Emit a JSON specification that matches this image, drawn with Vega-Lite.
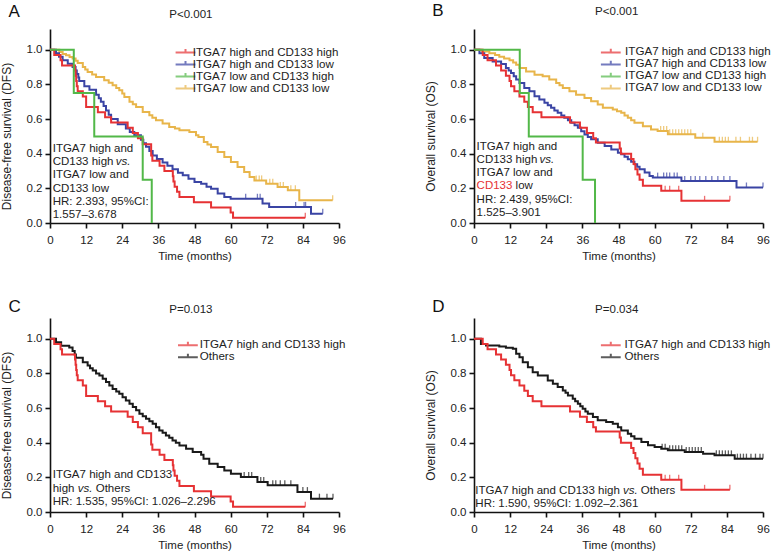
{
  "$schema": "https://vega.github.io/schema/vega-lite/v6.json",
  "padding": {"left": 0, "top": 2, "right": 0, "bottom": 0},
  "background": "white",
  "columns": 2,
  "spacing": {"row": 95, "column": 135},
  "bounds": "flush",
  "resolve": {"scale": {"color": "independent"}, "legend": {"color": "independent"}},
  "datasets": {
    "dfs": [
      {"group":"ITGA7 low and CD133 low","t":0,"s":1},{"group":"ITGA7 low and CD133 low","t":3.1,"s":0.987},{"group":"ITGA7 low and CD133 low","t":4.2,"s":0.975},{"group":"ITGA7 low and CD133 low","t":5.3,"s":0.968},{"group":"ITGA7 low and CD133 low","t":6.5,"s":0.958},{"group":"ITGA7 low and CD133 low","t":7.5,"s":0.95},{"group":"ITGA7 low and CD133 low","t":8.5,"s":0.937},{"group":"ITGA7 low and CD133 low","t":9.2,"s":0.924},{"group":"ITGA7 low and CD133 low","t":10.9,"s":0.9},{"group":"ITGA7 low and CD133 low","t":11.7,"s":0.886},{"group":"ITGA7 low and CD133 low","t":12.5,"s":0.872},{"group":"ITGA7 low and CD133 low","t":14,"s":0.857},{"group":"ITGA7 low and CD133 low","t":15.3,"s":0.843},{"group":"ITGA7 low and CD133 low","t":18,"s":0.824},{"group":"ITGA7 low and CD133 low","t":19.5,"s":0.81},{"group":"ITGA7 low and CD133 low","t":20.8,"s":0.795},{"group":"ITGA7 low and CD133 low","t":22,"s":0.78},{"group":"ITGA7 low and CD133 low","t":23,"s":0.766},{"group":"ITGA7 low and CD133 low","t":24,"s":0.747},{"group":"ITGA7 low and CD133 low","t":24.7,"s":0.728},{"group":"ITGA7 low and CD133 low","t":26.4,"s":0.7},{"group":"ITGA7 low and CD133 low","t":27.5,"s":0.685},{"group":"ITGA7 low and CD133 low","t":28.6,"s":0.67},{"group":"ITGA7 low and CD133 low","t":30.8,"s":0.641},{"group":"ITGA7 low and CD133 low","t":33,"s":0.622},{"group":"ITGA7 low and CD133 low","t":34,"s":0.607},{"group":"ITGA7 low and CD133 low","t":35.2,"s":0.593},{"group":"ITGA7 low and CD133 low","t":37.4,"s":0.574},{"group":"ITGA7 low and CD133 low","t":39.6,"s":0.554},{"group":"ITGA7 low and CD133 low","t":41.5,"s":0.545},{"group":"ITGA7 low and CD133 low","t":43,"s":0.535},{"group":"ITGA7 low and CD133 low","t":46.3,"s":0.525},{"group":"ITGA7 low and CD133 low","t":48.5,"s":0.506},{"group":"ITGA7 low and CD133 low","t":49.3,"s":0.497},{"group":"ITGA7 low and CD133 low","t":51.1,"s":0.468},{"group":"ITGA7 low and CD133 low","t":52.3,"s":0.453},{"group":"ITGA7 low and CD133 low","t":53.5,"s":0.439},{"group":"ITGA7 low and CD133 low","t":55.7,"s":0.41},{"group":"ITGA7 low and CD133 low","t":57.9,"s":0.381},{"group":"ITGA7 low and CD133 low","t":60.1,"s":0.352},{"group":"ITGA7 low and CD133 low","t":62.3,"s":0.323},{"group":"ITGA7 low and CD133 low","t":64.5,"s":0.294},{"group":"ITGA7 low and CD133 low","t":66.3,"s":0.265},{"group":"ITGA7 low and CD133 low","t":67.9,"s":0.246},{"group":"ITGA7 low and CD133 low","t":71.8,"s":0.227},{"group":"ITGA7 low and CD133 low","t":75.6,"s":0.208},{"group":"ITGA7 low and CD133 low","t":79,"s":0.189},{"group":"ITGA7 low and CD133 low","t":82.8,"s":0.131},{"group":"ITGA7 low and CD133 low","t":93.9,"s":0.131},
      {"group":"ITGA7 high and CD133 low","t":0,"s":1},{"group":"ITGA7 high and CD133 low","t":2,"s":0.98},{"group":"ITGA7 high and CD133 low","t":3,"s":0.96},{"group":"ITGA7 high and CD133 low","t":4.2,"s":0.94},{"group":"ITGA7 high and CD133 low","t":5.9,"s":0.92},{"group":"ITGA7 high and CD133 low","t":7.5,"s":0.9},{"group":"ITGA7 high and CD133 low","t":8.5,"s":0.88},{"group":"ITGA7 high and CD133 low","t":8.9,"s":0.86},{"group":"ITGA7 high and CD133 low","t":9.4,"s":0.84},{"group":"ITGA7 high and CD133 low","t":9.7,"s":0.82},{"group":"ITGA7 high and CD133 low","t":11.4,"s":0.79},{"group":"ITGA7 high and CD133 low","t":13.1,"s":0.77},{"group":"ITGA7 high and CD133 low","t":15.3,"s":0.74},{"group":"ITGA7 high and CD133 low","t":16.2,"s":0.72},{"group":"ITGA7 high and CD133 low","t":16.9,"s":0.7},{"group":"ITGA7 high and CD133 low","t":17.8,"s":0.675},{"group":"ITGA7 high and CD133 low","t":18.6,"s":0.65},{"group":"ITGA7 high and CD133 low","t":19.5,"s":0.625},{"group":"ITGA7 high and CD133 low","t":20.3,"s":0.6},{"group":"ITGA7 high and CD133 low","t":22.5,"s":0.57},{"group":"ITGA7 high and CD133 low","t":25.2,"s":0.545},{"group":"ITGA7 high and CD133 low","t":26.5,"s":0.525},{"group":"ITGA7 high and CD133 low","t":28,"s":0.506},{"group":"ITGA7 high and CD133 low","t":30.2,"s":0.48},{"group":"ITGA7 high and CD133 low","t":31,"s":0.46},{"group":"ITGA7 high and CD133 low","t":31.9,"s":0.44},{"group":"ITGA7 high and CD133 low","t":33,"s":0.415},{"group":"ITGA7 high and CD133 low","t":34.1,"s":0.39},{"group":"ITGA7 high and CD133 low","t":35.5,"s":0.37},{"group":"ITGA7 high and CD133 low","t":37.4,"s":0.35},{"group":"ITGA7 high and CD133 low","t":39,"s":0.33},{"group":"ITGA7 high and CD133 low","t":40.7,"s":0.31},{"group":"ITGA7 high and CD133 low","t":42.5,"s":0.29},{"group":"ITGA7 high and CD133 low","t":44.1,"s":0.275},{"group":"ITGA7 high and CD133 low","t":46,"s":0.255},{"group":"ITGA7 high and CD133 low","t":48,"s":0.237},{"group":"ITGA7 high and CD133 low","t":50.2,"s":0.227},{"group":"ITGA7 high and CD133 low","t":52,"s":0.21},{"group":"ITGA7 high and CD133 low","t":53.5,"s":0.198},{"group":"ITGA7 high and CD133 low","t":55.7,"s":0.17},{"group":"ITGA7 high and CD133 low","t":57.9,"s":0.15},{"group":"ITGA7 high and CD133 low","t":60,"s":0.14},{"group":"ITGA7 high and CD133 low","t":70.6,"s":0.112},{"group":"ITGA7 high and CD133 low","t":72.8,"s":0.093},{"group":"ITGA7 high and CD133 low","t":86.7,"s":0.054},{"group":"ITGA7 high and CD133 low","t":90.6,"s":0.054},
      {"group":"ITGA7 high and CD133 high","t":0,"s":1},{"group":"ITGA7 high and CD133 high","t":1.4,"s":0.97},{"group":"ITGA7 high and CD133 high","t":3.5,"s":0.94},{"group":"ITGA7 high and CD133 high","t":4,"s":0.91},{"group":"ITGA7 high and CD133 high","t":8.3,"s":0.88},{"group":"ITGA7 high and CD133 high","t":8.5,"s":0.85},{"group":"ITGA7 high and CD133 high","t":8.7,"s":0.82},{"group":"ITGA7 high and CD133 high","t":8.9,"s":0.79},{"group":"ITGA7 high and CD133 high","t":9.2,"s":0.76},{"group":"ITGA7 high and CD133 high","t":10.9,"s":0.73},{"group":"ITGA7 high and CD133 high","t":12,"s":0.67},{"group":"ITGA7 high and CD133 high","t":15.9,"s":0.64},{"group":"ITGA7 high and CD133 high","t":18.3,"s":0.61},{"group":"ITGA7 high and CD133 high","t":20.3,"s":0.58},{"group":"ITGA7 high and CD133 high","t":25.8,"s":0.55},{"group":"ITGA7 high and CD133 high","t":27.5,"s":0.52},{"group":"ITGA7 high and CD133 high","t":29.2,"s":0.49},{"group":"ITGA7 high and CD133 high","t":30.8,"s":0.455},{"group":"ITGA7 high and CD133 high","t":33.6,"s":0.39},{"group":"ITGA7 high and CD133 high","t":34,"s":0.36},{"group":"ITGA7 high and CD133 high","t":36.4,"s":0.33},{"group":"ITGA7 high and CD133 high","t":38,"s":0.3},{"group":"ITGA7 high and CD133 high","t":40.8,"s":0.27},{"group":"ITGA7 high and CD133 high","t":41,"s":0.24},{"group":"ITGA7 high and CD133 high","t":41.4,"s":0.21},{"group":"ITGA7 high and CD133 high","t":42.2,"s":0.18},{"group":"ITGA7 high and CD133 high","t":43,"s":0.15},{"group":"ITGA7 high and CD133 high","t":47.8,"s":0.12},{"group":"ITGA7 high and CD133 high","t":53.5,"s":0.09},{"group":"ITGA7 high and CD133 high","t":60,"s":0.06},{"group":"ITGA7 high and CD133 high","t":60.8,"s":0.03},{"group":"ITGA7 high and CD133 high","t":84.8,"s":0.03},
      {"group":"ITGA7 low and CD133 high","t":0,"s":1},{"group":"ITGA7 low and CD133 high","t":7.9,"s":0.75},{"group":"ITGA7 low and CD133 high","t":14.7,"s":0.5},{"group":"ITGA7 low and CD133 high","t":30.8,"s":0.25},{"group":"ITGA7 low and CD133 high","t":33.8,"s":0}
    ],
    "dfs_cens": [
      {"group":"ITGA7 high and CD133 high","t":84.8,"s":0.03},
      {"group":"ITGA7 high and CD133 low","t":65,"s":0.14},{"group":"ITGA7 high and CD133 low","t":68.9,"s":0.14},{"group":"ITGA7 high and CD133 low","t":69.8,"s":0.14},{"group":"ITGA7 high and CD133 low","t":81.6,"s":0.093},{"group":"ITGA7 high and CD133 low","t":84.4,"s":0.093},{"group":"ITGA7 high and CD133 low","t":84.9,"s":0.093},{"group":"ITGA7 high and CD133 low","t":90.6,"s":0.054},
      {"group":"ITGA7 low and CD133 low","t":68.5,"s":0.246},{"group":"ITGA7 low and CD133 low","t":69.5,"s":0.246},{"group":"ITGA7 low and CD133 low","t":70.3,"s":0.246},{"group":"ITGA7 low and CD133 low","t":73,"s":0.227},{"group":"ITGA7 low and CD133 low","t":74,"s":0.227},{"group":"ITGA7 low and CD133 low","t":76.5,"s":0.208},{"group":"ITGA7 low and CD133 low","t":77.5,"s":0.208},{"group":"ITGA7 low and CD133 low","t":80,"s":0.189},{"group":"ITGA7 low and CD133 low","t":81.5,"s":0.189},{"group":"ITGA7 low and CD133 low","t":93.9,"s":0.131}
    ],
    "dfs_others": [
      {"group":"Others","t":0,"s":1},{"group":"Others","t":2,"s":0.98},{"group":"Others","t":3.7,"s":0.96},{"group":"Others","t":6.4,"s":0.95},{"group":"Others","t":7.5,"s":0.93},{"group":"Others","t":8.2,"s":0.91},{"group":"Others","t":8.6,"s":0.89},{"group":"Others","t":10.9,"s":0.865},{"group":"Others","t":12.5,"s":0.846},{"group":"Others","t":13.3,"s":0.83},{"group":"Others","t":14.2,"s":0.817},{"group":"Others","t":15.3,"s":0.8},{"group":"Others","t":16.4,"s":0.788},{"group":"Others","t":17.5,"s":0.77},{"group":"Others","t":18.6,"s":0.75},{"group":"Others","t":19.7,"s":0.73},{"group":"Others","t":20.8,"s":0.71},{"group":"Others","t":22,"s":0.695},{"group":"Others","t":23,"s":0.682},{"group":"Others","t":24.1,"s":0.663},{"group":"Others","t":25.2,"s":0.644},{"group":"Others","t":26.4,"s":0.625},{"group":"Others","t":27.5,"s":0.606},{"group":"Others","t":28.6,"s":0.587},{"group":"Others","t":29.7,"s":0.567},{"group":"Others","t":30.8,"s":0.553},{"group":"Others","t":31.9,"s":0.538},{"group":"Others","t":33,"s":0.524},{"group":"Others","t":34.1,"s":0.509},{"group":"Others","t":35.2,"s":0.49},{"group":"Others","t":36.3,"s":0.471},{"group":"Others","t":37.4,"s":0.457},{"group":"Others","t":38.5,"s":0.442},{"group":"Others","t":39.6,"s":0.428},{"group":"Others","t":40.7,"s":0.413},{"group":"Others","t":41.8,"s":0.4},{"group":"Others","t":43,"s":0.384},{"group":"Others","t":45.2,"s":0.365},{"group":"Others","t":47.4,"s":0.346},{"group":"Others","t":50.2,"s":0.33},{"group":"Others","t":51,"s":0.308},{"group":"Others","t":52.9,"s":0.279},{"group":"Others","t":55.7,"s":0.26},{"group":"Others","t":57.9,"s":0.24},{"group":"Others","t":60.1,"s":0.221},{"group":"Others","t":63.4,"s":0.202},{"group":"Others","t":68.9,"s":0.173},{"group":"Others","t":72.3,"s":0.154},{"group":"Others","t":82.2,"s":0.115},{"group":"Others","t":86.7,"s":0.077},{"group":"Others","t":94,"s":0.077}
    ],
    "dfs_others_cens": [
      {"group":"Others","t":64.5,"s":0.202},{"group":"Others","t":66,"s":0.202},{"group":"Others","t":67,"s":0.202},{"group":"Others","t":70,"s":0.173},{"group":"Others","t":71,"s":0.173},{"group":"Others","t":74,"s":0.154},{"group":"Others","t":75,"s":0.154},{"group":"Others","t":76.5,"s":0.154},{"group":"Others","t":78,"s":0.154},{"group":"Others","t":80,"s":0.154},{"group":"Others","t":84,"s":0.115},{"group":"Others","t":85.5,"s":0.115},{"group":"Others","t":89.5,"s":0.077},{"group":"Others","t":92,"s":0.077},{"group":"Others","t":94,"s":0.077}
    ],
    "os": [
      {"group":"ITGA7 low and CD133 low","t":0,"s":1},{"group":"ITGA7 low and CD133 low","t":2.5,"s":0.99},{"group":"ITGA7 low and CD133 low","t":5.1,"s":0.98},{"group":"ITGA7 low and CD133 low","t":7,"s":0.97},{"group":"ITGA7 low and CD133 low","t":8.4,"s":0.96},{"group":"ITGA7 low and CD133 low","t":10,"s":0.95},{"group":"ITGA7 low and CD133 low","t":11.8,"s":0.94},{"group":"ITGA7 low and CD133 low","t":13,"s":0.927},{"group":"ITGA7 low and CD133 low","t":14,"s":0.914},{"group":"ITGA7 low and CD133 low","t":15.1,"s":0.895},{"group":"ITGA7 low and CD133 low","t":17.3,"s":0.875},{"group":"ITGA7 low and CD133 low","t":20.1,"s":0.856},{"group":"ITGA7 low and CD133 low","t":22.8,"s":0.847},{"group":"ITGA7 low and CD133 low","t":25,"s":0.828},{"group":"ITGA7 low and CD133 low","t":27.3,"s":0.808},{"group":"ITGA7 low and CD133 low","t":28.4,"s":0.795},{"group":"ITGA7 low and CD133 low","t":29.5,"s":0.78},{"group":"ITGA7 low and CD133 low","t":31.7,"s":0.76},{"group":"ITGA7 low and CD133 low","t":33.9,"s":0.741},{"group":"ITGA7 low and CD133 low","t":36.7,"s":0.722},{"group":"ITGA7 low and CD133 low","t":38.9,"s":0.703},{"group":"ITGA7 low and CD133 low","t":41.1,"s":0.684},{"group":"ITGA7 low and CD133 low","t":42.8,"s":0.665},{"group":"ITGA7 low and CD133 low","t":46.1,"s":0.655},{"group":"ITGA7 low and CD133 low","t":47.5,"s":0.645},{"group":"ITGA7 low and CD133 low","t":48.9,"s":0.636},{"group":"ITGA7 low and CD133 low","t":50,"s":0.62},{"group":"ITGA7 low and CD133 low","t":51.1,"s":0.607},{"group":"ITGA7 low and CD133 low","t":52.2,"s":0.593},{"group":"ITGA7 low and CD133 low","t":53.3,"s":0.579},{"group":"ITGA7 low and CD133 low","t":56.1,"s":0.559},{"group":"ITGA7 low and CD133 low","t":58.8,"s":0.54},{"group":"ITGA7 low and CD133 low","t":61,"s":0.531},{"group":"ITGA7 low and CD133 low","t":64.4,"s":0.512},{"group":"ITGA7 low and CD133 low","t":73.5,"s":0.492},{"group":"ITGA7 low and CD133 low","t":79.9,"s":0.469},{"group":"ITGA7 low and CD133 low","t":94.2,"s":0.469},
      {"group":"ITGA7 high and CD133 low","t":0,"s":1},{"group":"ITGA7 high and CD133 low","t":1.8,"s":0.98},{"group":"ITGA7 high and CD133 low","t":3.4,"s":0.952},{"group":"ITGA7 high and CD133 low","t":6.2,"s":0.933},{"group":"ITGA7 high and CD133 low","t":9,"s":0.918},{"group":"ITGA7 high and CD133 low","t":10.6,"s":0.895},{"group":"ITGA7 high and CD133 low","t":11.5,"s":0.88},{"group":"ITGA7 high and CD133 low","t":12.3,"s":0.866},{"group":"ITGA7 high and CD133 low","t":13.2,"s":0.847},{"group":"ITGA7 high and CD133 low","t":14,"s":0.828},{"group":"ITGA7 high and CD133 low","t":15.1,"s":0.808},{"group":"ITGA7 high and CD133 low","t":16.7,"s":0.78},{"group":"ITGA7 high and CD133 low","t":18.4,"s":0.76},{"group":"ITGA7 high and CD133 low","t":20.1,"s":0.732},{"group":"ITGA7 high and CD133 low","t":21.7,"s":0.713},{"group":"ITGA7 high and CD133 low","t":23.4,"s":0.694},{"group":"ITGA7 high and CD133 low","t":24.5,"s":0.68},{"group":"ITGA7 high and CD133 low","t":25.6,"s":0.665},{"group":"ITGA7 high and CD133 low","t":26.7,"s":0.65},{"group":"ITGA7 high and CD133 low","t":27.8,"s":0.636},{"group":"ITGA7 high and CD133 low","t":29,"s":0.62},{"group":"ITGA7 high and CD133 low","t":30,"s":0.607},{"group":"ITGA7 high and CD133 low","t":31.2,"s":0.593},{"group":"ITGA7 high and CD133 low","t":32.3,"s":0.579},{"group":"ITGA7 high and CD133 low","t":33.4,"s":0.565},{"group":"ITGA7 high and CD133 low","t":34.5,"s":0.55},{"group":"ITGA7 high and CD133 low","t":35.6,"s":0.53},{"group":"ITGA7 high and CD133 low","t":36.7,"s":0.511},{"group":"ITGA7 high and CD133 low","t":37.8,"s":0.497},{"group":"ITGA7 high and CD133 low","t":38.9,"s":0.483},{"group":"ITGA7 high and CD133 low","t":41.1,"s":0.464},{"group":"ITGA7 high and CD133 low","t":43.4,"s":0.444},{"group":"ITGA7 high and CD133 low","t":45.6,"s":0.425},{"group":"ITGA7 high and CD133 low","t":47.8,"s":0.406},{"group":"ITGA7 high and CD133 low","t":48.9,"s":0.397},{"group":"ITGA7 high and CD133 low","t":50,"s":0.383},{"group":"ITGA7 high and CD133 low","t":51.1,"s":0.368},{"group":"ITGA7 high and CD133 low","t":52.2,"s":0.354},{"group":"ITGA7 high and CD133 low","t":53.3,"s":0.339},{"group":"ITGA7 high and CD133 low","t":54.2,"s":0.325},{"group":"ITGA7 high and CD133 low","t":55,"s":0.31},{"group":"ITGA7 high and CD133 low","t":56.7,"s":0.291},{"group":"ITGA7 high and CD133 low","t":58.3,"s":0.272},{"group":"ITGA7 high and CD133 low","t":59.4,"s":0.262},{"group":"ITGA7 high and CD133 low","t":68.9,"s":0.243},{"group":"ITGA7 high and CD133 low","t":87.2,"s":0.205},{"group":"ITGA7 high and CD133 low","t":96,"s":0.205},
      {"group":"ITGA7 high and CD133 high","t":0,"s":1},{"group":"ITGA7 high and CD133 high","t":2.9,"s":0.97},{"group":"ITGA7 high and CD133 high","t":4.5,"s":0.94},{"group":"ITGA7 high and CD133 high","t":7.3,"s":0.91},{"group":"ITGA7 high and CD133 high","t":9,"s":0.88},{"group":"ITGA7 high and CD133 high","t":10.6,"s":0.85},{"group":"ITGA7 high and CD133 high","t":11.8,"s":0.82},{"group":"ITGA7 high and CD133 high","t":12.3,"s":0.79},{"group":"ITGA7 high and CD133 high","t":13.4,"s":0.76},{"group":"ITGA7 high and CD133 high","t":15.1,"s":0.73},{"group":"ITGA7 high and CD133 high","t":16.7,"s":0.7},{"group":"ITGA7 high and CD133 high","t":17.9,"s":0.67},{"group":"ITGA7 high and CD133 high","t":19.5,"s":0.64},{"group":"ITGA7 high and CD133 high","t":22.4,"s":0.61},{"group":"ITGA7 high and CD133 high","t":31.9,"s":0.58},{"group":"ITGA7 high and CD133 high","t":35.2,"s":0.55},{"group":"ITGA7 high and CD133 high","t":37.5,"s":0.52},{"group":"ITGA7 high and CD133 high","t":39.6,"s":0.49},{"group":"ITGA7 high and CD133 high","t":40.5,"s":0.465},{"group":"ITGA7 high and CD133 high","t":48.4,"s":0.43},{"group":"ITGA7 high and CD133 high","t":48.8,"s":0.4},{"group":"ITGA7 high and CD133 high","t":52.2,"s":0.37},{"group":"ITGA7 high and CD133 high","t":53,"s":0.34},{"group":"ITGA7 high and CD133 high","t":53.6,"s":0.31},{"group":"ITGA7 high and CD133 high","t":54.3,"s":0.28},{"group":"ITGA7 high and CD133 high","t":55,"s":0.25},{"group":"ITGA7 high and CD133 high","t":56.1,"s":0.215},{"group":"ITGA7 high and CD133 high","t":62.2,"s":0.186},{"group":"ITGA7 high and CD133 high","t":68.9,"s":0.128},{"group":"ITGA7 high and CD133 high","t":85,"s":0.128},
      {"group":"ITGA7 low and CD133 high","t":0,"s":1},{"group":"ITGA7 low and CD133 high","t":15.2,"s":0.75},{"group":"ITGA7 low and CD133 high","t":18.2,"s":0.5},{"group":"ITGA7 low and CD133 high","t":36.1,"s":0.25},{"group":"ITGA7 low and CD133 high","t":40.2,"s":0}
    ],
    "os_cens": [
      {"group":"ITGA7 high and CD133 high","t":63.5,"s":0.186},{"group":"ITGA7 high and CD133 high","t":65,"s":0.186},{"group":"ITGA7 high and CD133 high","t":68,"s":0.186},{"group":"ITGA7 high and CD133 high","t":76.6,"s":0.128},{"group":"ITGA7 high and CD133 high","t":85,"s":0.128},
      {"group":"ITGA7 high and CD133 low","t":61,"s":0.262},{"group":"ITGA7 high and CD133 low","t":63,"s":0.262},{"group":"ITGA7 high and CD133 low","t":64,"s":0.262},{"group":"ITGA7 high and CD133 low","t":65,"s":0.262},{"group":"ITGA7 high and CD133 low","t":66.5,"s":0.262},{"group":"ITGA7 high and CD133 low","t":67.5,"s":0.262},{"group":"ITGA7 high and CD133 low","t":70,"s":0.243},{"group":"ITGA7 high and CD133 low","t":72,"s":0.243},{"group":"ITGA7 high and CD133 low","t":73.5,"s":0.243},{"group":"ITGA7 high and CD133 low","t":75,"s":0.243},{"group":"ITGA7 high and CD133 low","t":77,"s":0.243},{"group":"ITGA7 high and CD133 low","t":79,"s":0.243},{"group":"ITGA7 high and CD133 low","t":81,"s":0.243},{"group":"ITGA7 high and CD133 low","t":83,"s":0.243},{"group":"ITGA7 high and CD133 low","t":85,"s":0.243},{"group":"ITGA7 high and CD133 low","t":90.5,"s":0.205},{"group":"ITGA7 high and CD133 low","t":96,"s":0.205},
      {"group":"ITGA7 low and CD133 low","t":62,"s":0.531},{"group":"ITGA7 low and CD133 low","t":63,"s":0.531},{"group":"ITGA7 low and CD133 low","t":64,"s":0.531},{"group":"ITGA7 low and CD133 low","t":65,"s":0.512},{"group":"ITGA7 low and CD133 low","t":66,"s":0.512},{"group":"ITGA7 low and CD133 low","t":67,"s":0.512},{"group":"ITGA7 low and CD133 low","t":68,"s":0.512},{"group":"ITGA7 low and CD133 low","t":69,"s":0.512},{"group":"ITGA7 low and CD133 low","t":70,"s":0.512},{"group":"ITGA7 low and CD133 low","t":71,"s":0.512},{"group":"ITGA7 low and CD133 low","t":72,"s":0.512},{"group":"ITGA7 low and CD133 low","t":76,"s":0.492},{"group":"ITGA7 low and CD133 low","t":81.5,"s":0.469},{"group":"ITGA7 low and CD133 low","t":82.5,"s":0.469},{"group":"ITGA7 low and CD133 low","t":83.5,"s":0.469},{"group":"ITGA7 low and CD133 low","t":84.5,"s":0.469},{"group":"ITGA7 low and CD133 low","t":87,"s":0.469},{"group":"ITGA7 low and CD133 low","t":88.5,"s":0.469},{"group":"ITGA7 low and CD133 low","t":91.5,"s":0.469},{"group":"ITGA7 low and CD133 low","t":92.5,"s":0.469},{"group":"ITGA7 low and CD133 low","t":94.2,"s":0.469}
    ],
    "os_others": [
      {"group":"Others","t":0,"s":1},{"group":"Others","t":2.3,"s":0.97},{"group":"Others","t":4,"s":0.961},{"group":"Others","t":8.4,"s":0.955},{"group":"Others","t":10.6,"s":0.948},{"group":"Others","t":12.9,"s":0.942},{"group":"Others","t":14,"s":0.913},{"group":"Others","t":15.1,"s":0.894},{"group":"Others","t":16.2,"s":0.865},{"group":"Others","t":17.9,"s":0.836},{"group":"Others","t":19.5,"s":0.807},{"group":"Others","t":21.2,"s":0.788},{"group":"Others","t":24.5,"s":0.759},{"group":"Others","t":26.2,"s":0.74},{"group":"Others","t":27.8,"s":0.721},{"group":"Others","t":29.5,"s":0.702},{"group":"Others","t":30.4,"s":0.688},{"group":"Others","t":31.2,"s":0.673},{"group":"Others","t":32.8,"s":0.654},{"group":"Others","t":33.6,"s":0.64},{"group":"Others","t":34.5,"s":0.625},{"group":"Others","t":35.3,"s":0.61},{"group":"Others","t":36.1,"s":0.596},{"group":"Others","t":37,"s":0.58},{"group":"Others","t":37.8,"s":0.567},{"group":"Others","t":39.5,"s":0.548},{"group":"Others","t":41.1,"s":0.529},{"group":"Others","t":43.9,"s":0.519},{"group":"Others","t":46.1,"s":0.509},{"group":"Others","t":47.8,"s":0.49},{"group":"Others","t":48.9,"s":0.471},{"group":"Others","t":51.1,"s":0.452},{"group":"Others","t":52.2,"s":0.437},{"group":"Others","t":53.3,"s":0.423},{"group":"Others","t":55.6,"s":0.404},{"group":"Others","t":57.8,"s":0.385},{"group":"Others","t":60,"s":0.375},{"group":"Others","t":62.2,"s":0.365},{"group":"Others","t":64.4,"s":0.356},{"group":"Others","t":70,"s":0.346},{"group":"Others","t":76.1,"s":0.337},{"group":"Others","t":79.9,"s":0.327},{"group":"Others","t":86.6,"s":0.308},{"group":"Others","t":96,"s":0.308}
    ],
    "os_others_cens": [
      {"group":"Others","t":62.5,"s":0.365},{"group":"Others","t":63.5,"s":0.365},{"group":"Others","t":65,"s":0.356},{"group":"Others","t":66,"s":0.356},{"group":"Others","t":67,"s":0.356},{"group":"Others","t":68,"s":0.356},{"group":"Others","t":69,"s":0.356},{"group":"Others","t":70.5,"s":0.346},{"group":"Others","t":71.5,"s":0.346},{"group":"Others","t":72.5,"s":0.346},{"group":"Others","t":73.5,"s":0.346},{"group":"Others","t":74.5,"s":0.346},{"group":"Others","t":75.5,"s":0.346},{"group":"Others","t":80.5,"s":0.327},{"group":"Others","t":81.5,"s":0.327},{"group":"Others","t":82.5,"s":0.327},{"group":"Others","t":83.5,"s":0.327},{"group":"Others","t":84.5,"s":0.327},{"group":"Others","t":85.5,"s":0.327},{"group":"Others","t":87.5,"s":0.308},{"group":"Others","t":88.5,"s":0.308},{"group":"Others","t":89.5,"s":0.308},{"group":"Others","t":90.5,"s":0.308},{"group":"Others","t":92,"s":0.308},{"group":"Others","t":93.5,"s":0.308},{"group":"Others","t":95,"s":0.308},{"group":"Others","t":96,"s":0.308}
    ]
  },
  "concat": [
    {
      "width": 289, "height": 194,
      "layer": [
        {"data": {"name": "dfs"}, "mark": {"type": "line", "interpolate": "step-after", "strokeWidth": 2},
         "encoding": {
           "x": {"field": "t", "type": "quantitative", "scale": {"domain": [0, 96], "nice": false}, "axis": {"values": [0,12,24,36,48,60,72,84,96], "tickCount": 20, "labelOverlap": false, "title": "Time (months)"}},
           "y": {"field": "s", "type": "quantitative", "scale": {"domain": [0, 1.12], "nice": false}, "axis": {"values": [0,0.2,0.4,0.6,0.8,1], "tickCount": 20, "labelOverlap": false, "format": ".1f", "title": "Disease-free survival (DFS)", "titleY": 107}},
           "color": {"field": "group", "type": "nominal", "sort": null, "scale": {"domain": ["ITGA7 high and CD133 high","ITGA7 high and CD133 low","ITGA7 low and CD133 high","ITGA7 low and CD133 low"], "range": ["#e63234","#3a44a4","#52b848","#e8b54a"]}, "legend": {"title": null, "orient": "none", "legendX": 129.7, "legendY": 17.8, "labelOffset": 1.4}}
         }},
        {"data": {"name": "dfs_cens"}, "mark": {"type": "tick", "orient": "vertical", "size": 5, "thickness": 1.3, "yOffset": -2.5},
         "encoding": {"x": {"field": "t", "type": "quantitative", "title": "Time (months)"}, "y": {"field": "s", "type": "quantitative", "title": "Disease-free survival (DFS)"}, "color": {"field": "group", "type": "nominal"}}},
        {"data": {"values": [{}]}, "mark": {"type": "text", "fontSize": 11.5, "align": "center", "baseline": "middle", "color": "#222"},
         "encoding": {"x": {"datum": 46.8}, "y": {"datum": 1.199}, "text": {"value": "P<0.001"}}},
        {"data": {"values": [{}]}, "mark": {"type": "text", "fontSize": 17, "align": "left", "baseline": "middle", "color": "#111"},
         "encoding": {"x": {"datum": -13.8}, "y": {"datum": 1.216}, "text": {"value": "A"}}},
        {"data": {"values": [{}]}, "mark": {"type": "text", "fontSize": 11.5, "align": "left", "baseline": "top", "lineHeight": 13.3, "color": "#222"},
         "encoding": {"x": {"datum": 0.9}, "y": {"datum": 0.464}, "text": {"value": ["ITGA7 high and", "CD133 high", "ITGA7 low and", "CD133 low", "HR: 2.393, 95%CI:", "1.557–3.678"]}}},
        {"data": {"values": [{}]}, "mark": {"type": "text", "fontSize": 11.5, "align": "left", "baseline": "top", "fontStyle": "italic", "dx": 63, "color": "#222"},
         "encoding": {"x": {"datum": 0.9}, "y": {"datum": 0.387}, "text": {"value": "vs."}}}
      ]
    },
    {
      "width": 289, "height": 194,
      "layer": [
        {"data": {"name": "os"}, "mark": {"type": "line", "interpolate": "step-after", "strokeWidth": 2},
         "encoding": {
           "x": {"field": "t", "type": "quantitative", "scale": {"domain": [0, 96], "nice": false}, "axis": {"values": [0,12,24,36,48,60,72,84,96], "tickCount": 20, "labelOverlap": false, "title": "Time (months)"}},
           "y": {"field": "s", "type": "quantitative", "scale": {"domain": [0, 1.12], "nice": false}, "axis": {"values": [0,0.2,0.4,0.6,0.8,1], "tickCount": 20, "labelOverlap": false, "format": ".1f", "title": "Overall survival (OS)", "titleY": 107}},
           "color": {"field": "group", "type": "nominal", "sort": null, "scale": {"domain": ["ITGA7 high and CD133 high","ITGA7 high and CD133 low","ITGA7 low and CD133 high","ITGA7 low and CD133 low"], "range": ["#e63234","#3a44a4","#52b848","#e8b54a"]}, "legend": {"title": null, "orient": "none", "legendX": 131, "legendY": 17.6, "labelOffset": 8.5}}
         }},
        {"data": {"name": "os_cens"}, "mark": {"type": "tick", "orient": "vertical", "size": 5, "thickness": 1.3, "yOffset": -2.5},
         "encoding": {"x": {"field": "t", "type": "quantitative", "title": "Time (months)"}, "y": {"field": "s", "type": "quantitative", "title": "Overall survival (OS)"}, "color": {"field": "group", "type": "nominal"}}},
        {"data": {"values": [{}]}, "mark": {"type": "text", "fontSize": 11.5, "align": "center", "baseline": "middle", "color": "#222"},
         "encoding": {"x": {"datum": 47.4}, "y": {"datum": 1.217}, "text": {"value": "P<0.001"}}},
        {"data": {"values": [{}]}, "mark": {"type": "text", "fontSize": 17, "align": "left", "baseline": "middle", "color": "#111"},
         "encoding": {"x": {"datum": -13.9}, "y": {"datum": 1.222}, "text": {"value": "B"}}},
        {"data": {"values": [{}]}, "mark": {"type": "text", "fontSize": 11.5, "align": "left", "baseline": "top", "lineHeight": 13.3, "color": "#222"},
         "encoding": {"x": {"datum": 0.87}, "y": {"datum": 0.476}, "text": {"value": ["ITGA7 high and", "CD133 high", "ITGA7 low and"]}}},
        {"data": {"values": [{}]}, "mark": {"type": "text", "fontSize": 11.5, "align": "left", "baseline": "top", "fontStyle": "italic", "dx": 63, "color": "#222"},
         "encoding": {"x": {"datum": 0.87}, "y": {"datum": 0.399}, "text": {"value": "vs."}}},
        {"data": {"values": [{}]}, "mark": {"type": "text", "fontSize": 11.5, "align": "left", "baseline": "top", "color": "#e63234"},
         "encoding": {"x": {"datum": 0.87}, "y": {"datum": 0.2456}, "text": {"value": "CD133"}}},
        {"data": {"values": [{}]}, "mark": {"type": "text", "fontSize": 11.5, "align": "left", "baseline": "top", "dx": 39, "color": "#222"},
         "encoding": {"x": {"datum": 0.87}, "y": {"datum": 0.2456}, "text": {"value": "low"}}},
        {"data": {"values": [{}]}, "mark": {"type": "text", "fontSize": 11.5, "align": "left", "baseline": "top", "lineHeight": 13.3, "color": "#222"},
         "encoding": {"x": {"datum": 0.87}, "y": {"datum": 0.1688}, "text": {"value": ["HR: 2.439, 95%CI:", "1.525–3.901"]}}}
      ]
    },
    {
      "width": 289, "height": 194,
      "layer": [
        {"data": {"name": "dfs_others"}, "mark": {"type": "line", "interpolate": "step-after", "strokeWidth": 2},
         "encoding": {
           "x": {"field": "t", "type": "quantitative", "scale": {"domain": [0, 96], "nice": false}, "axis": {"values": [0,12,24,36,48,60,72,84,96], "tickCount": 20, "labelOverlap": false, "title": "Time (months)"}},
           "y": {"field": "s", "type": "quantitative", "scale": {"domain": [0, 1.12], "nice": false}, "axis": {"values": [0,0.2,0.4,0.6,0.8,1], "tickCount": 20, "labelOverlap": false, "format": ".1f", "title": "Disease-free survival (DFS)", "titleY": 107}},
           "color": {"field": "group", "type": "nominal", "sort": null, "scale": {"domain": ["ITGA7 high and CD133 high","Others"], "range": ["#e63234","#1a1a1a"]}, "legend": {"title": null, "orient": "none", "legendX": 132.1, "legendY": 21.5, "labelOffset": 6}}
         }},
        {"data": {"name": "dfs"}, "transform": [{"filter": "datum.group == 'ITGA7 high and CD133 high'"}], "mark": {"type": "line", "interpolate": "step-after", "strokeWidth": 2},
         "encoding": {"x": {"field": "t", "type": "quantitative", "title": "Time (months)"}, "y": {"field": "s", "type": "quantitative", "title": "Disease-free survival (DFS)"}, "color": {"field": "group", "type": "nominal"}}},
        {"data": {"name": "dfs_others_cens"}, "mark": {"type": "tick", "orient": "vertical", "size": 5, "thickness": 1.3, "yOffset": -2.5},
         "encoding": {"x": {"field": "t", "type": "quantitative", "title": "Time (months)"}, "y": {"field": "s", "type": "quantitative", "title": "Disease-free survival (DFS)"}, "color": {"field": "group", "type": "nominal"}}},
        {"data": {"name": "dfs_cens"}, "transform": [{"filter": "datum.group == 'ITGA7 high and CD133 high'"}], "mark": {"type": "tick", "orient": "vertical", "size": 5, "thickness": 1.3, "yOffset": -2.5},
         "encoding": {"x": {"field": "t", "type": "quantitative", "title": "Time (months)"}, "y": {"field": "s", "type": "quantitative", "title": "Disease-free survival (DFS)"}, "color": {"field": "group", "type": "nominal"}}},
        {"data": {"values": [{}]}, "mark": {"type": "text", "fontSize": 11.5, "align": "center", "baseline": "middle", "color": "#222"},
         "encoding": {"x": {"datum": 46.8}, "y": {"datum": 1.169}, "text": {"value": "P=0.013"}}},
        {"data": {"values": [{}]}, "mark": {"type": "text", "fontSize": 17, "align": "left", "baseline": "middle", "color": "#111"},
         "encoding": {"x": {"datum": -13.8}, "y": {"datum": 1.185}, "text": {"value": "C"}}},
        {"data": {"values": [{}]}, "mark": {"type": "text", "fontSize": 11.5, "align": "left", "baseline": "top", "lineHeight": 13.3, "color": "#222"},
         "encoding": {"x": {"datum": 0.9}, "y": {"datum": 0.2465}, "text": {"value": ["ITGA7 high and CD133", "high", "HR: 1.535, 95%CI: 1.026–2.296"]}}},
        {"data": {"values": [{}]}, "mark": {"type": "text", "fontSize": 11.5, "align": "left", "baseline": "top", "fontStyle": "italic", "dx": 25, "color": "#222"},
         "encoding": {"x": {"datum": 0.9}, "y": {"datum": 0.1697}, "text": {"value": "vs."}}},
        {"data": {"values": [{}]}, "mark": {"type": "text", "fontSize": 11.5, "align": "left", "baseline": "top", "dx": 43, "color": "#222"},
         "encoding": {"x": {"datum": 0.9}, "y": {"datum": 0.1697}, "text": {"value": "Others"}}}
      ]
    },
    {
      "width": 289, "height": 194,
      "layer": [
        {"data": {"name": "os_others"}, "mark": {"type": "line", "interpolate": "step-after", "strokeWidth": 2},
         "encoding": {
           "x": {"field": "t", "type": "quantitative", "scale": {"domain": [0, 96], "nice": false}, "axis": {"values": [0,12,24,36,48,60,72,84,96], "tickCount": 20, "labelOverlap": false, "title": "Time (months)"}},
           "y": {"field": "s", "type": "quantitative", "scale": {"domain": [0, 1.12], "nice": false}, "axis": {"values": [0,0.2,0.4,0.6,0.8,1], "tickCount": 20, "labelOverlap": false, "format": ".1f", "title": "Overall survival (OS)", "titleY": 107}},
           "color": {"field": "group", "type": "nominal", "sort": null, "scale": {"domain": ["ITGA7 high and CD133 high","Others"], "range": ["#e63234","#1a1a1a"]}, "legend": {"title": null, "orient": "none", "legendX": 131, "legendY": 21.5, "labelOffset": 8}}
         }},
        {"data": {"name": "os"}, "transform": [{"filter": "datum.group == 'ITGA7 high and CD133 high'"}], "mark": {"type": "line", "interpolate": "step-after", "strokeWidth": 2},
         "encoding": {"x": {"field": "t", "type": "quantitative", "title": "Time (months)"}, "y": {"field": "s", "type": "quantitative", "title": "Overall survival (OS)"}, "color": {"field": "group", "type": "nominal"}}},
        {"data": {"name": "os_others_cens"}, "mark": {"type": "tick", "orient": "vertical", "size": 5, "thickness": 1.3, "yOffset": -2.5},
         "encoding": {"x": {"field": "t", "type": "quantitative", "title": "Time (months)"}, "y": {"field": "s", "type": "quantitative", "title": "Overall survival (OS)"}, "color": {"field": "group", "type": "nominal"}}},
        {"data": {"name": "os_cens"}, "transform": [{"filter": "datum.group == 'ITGA7 high and CD133 high'"}], "mark": {"type": "tick", "orient": "vertical", "size": 5, "thickness": 1.3, "yOffset": -2.5},
         "encoding": {"x": {"field": "t", "type": "quantitative", "title": "Time (months)"}, "y": {"field": "s", "type": "quantitative", "title": "Overall survival (OS)"}, "color": {"field": "group", "type": "nominal"}}},
        {"data": {"values": [{}]}, "mark": {"type": "text", "fontSize": 11.5, "align": "center", "baseline": "middle", "color": "#222"},
         "encoding": {"x": {"datum": 47.4}, "y": {"datum": 1.169}, "text": {"value": "P=0.034"}}},
        {"data": {"values": [{}]}, "mark": {"type": "text", "fontSize": 17, "align": "left", "baseline": "middle", "color": "#111"},
         "encoding": {"x": {"datum": -13.9}, "y": {"datum": 1.185}, "text": {"value": "D"}}},
        {"data": {"values": [{}]}, "mark": {"type": "text", "fontSize": 11.5, "align": "left", "baseline": "top", "lineHeight": 13.3, "color": "#222"},
         "encoding": {"x": {"datum": 0.45}, "y": {"datum": 0.158}, "text": {"value": ["ITGA7 high and CD133 high", "HR: 1.590, 95%CI: 1.092–2.361"]}}},
        {"data": {"values": [{}]}, "mark": {"type": "text", "fontSize": 11.5, "align": "left", "baseline": "top", "fontStyle": "italic", "dx": 147.6, "color": "#222"},
         "encoding": {"x": {"datum": 0.45}, "y": {"datum": 0.158}, "text": {"value": "vs."}}},
        {"data": {"values": [{}]}, "mark": {"type": "text", "fontSize": 11.5, "align": "left", "baseline": "top", "dx": 165.5, "color": "#222"},
         "encoding": {"x": {"datum": 0.45}, "y": {"datum": 0.158}, "text": {"value": "Others"}}}
      ]
    }
  ],
  "config": {
    "font": "Liberation Sans",
    "view": {"stroke": null},
    "axis": {"grid": false, "domainColor": "#111", "domainWidth": 1.6, "tickColor": "#111", "tickWidth": 1.6, "tickSize": 5, "labelFontSize": 11.5, "labelColor": "#222", "labelFlush": false, "labelOverlap": false, "titleFontSize": 11.5, "titleFontWeight": "normal", "titleColor": "#222", "labelPadding": 3},
    "axisX": {"titlePadding": 4.5, "labelPadding": 6.5},
    "axisY": {"titlePadding": 12.5, "titleFontSize": 12},
    "legend": {"symbolType": "M-2.2,0H2.2M0,0V-0.8", "symbolSize": 81, "symbolStrokeWidth": 2, "labelFontSize": 11.6, "labelColor": "#222", "rowPadding": -2.6, "padding": 0}
  }
}
